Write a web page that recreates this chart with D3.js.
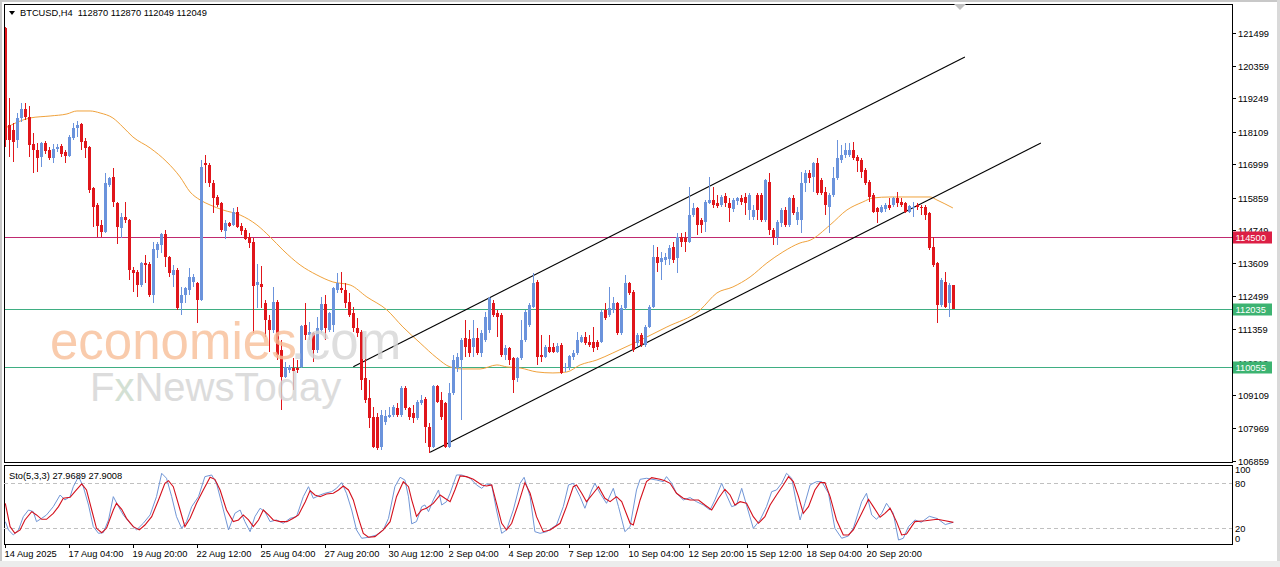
<!DOCTYPE html>
<html><head><meta charset="utf-8">
<script src="https://cdn.jsdelivr.net/npm/d3@7"></script>
<style>
body{margin:0;background:#fff;}
svg{display:block;}
text{font-family:"Liberation Sans",Arial,sans-serif;}
</style>
</head><body>
<svg id="chart" width="1280" height="567"></svg>
<script>
// ---------------- DATA ----------------
const symbolLabel = "BTCUSD,H4";
const lastBar = ["112870","112870","112049","112049"];
const stochLabel = "Sto(5,3,3) 27.9689 27.9008";

const opens = [121653,118339,118168,117826,118578,118885,118612,117690,117484,117245,117724,117484,117211,117519,117621,117416,117279,117894,118236,118373,117792,117587,116186,115605,114922,114683,116289,116562,115673,114819,115195,115093,113384,113316,112871,113623,113589,112530,114067,114238,114614,113828,113213,113384,112256,112530,112701,112974,112940,112359,117040,116972,116357,115878,115673,114717,114990,114922,115366,114888,114751,114512,114341,112871,112906,112256,111676,111334,112291,110650,109728,109967,110035,110035,110070,111505,111163,111231,110650,111334,112222,111334,111505,112701,112769,112701,112291,111915,111402,111266,109694,109010,108361,108361,107336,108190,108361,108429,108669,108429,109352,108669,108498,108327,108839,108976,108019,107336,109420,108942,108839,107336,109181,110035,110309,111060,111026,110753,111060,110548,110992,111334,112256,111915,111846,110480,110719,110377,109694,110377,110992,111505,112120,112974,110480,110411,110753,110753,110582,110821,110035,110070,110411,110548,110924,111095,110924,110924,110924,110924,112017,111846,112017,112256,111231,112086,112940,112632,110890,111163,110821,111436,112120,113828,113657,113726,113760,114170,113794,114512,114477,114341,115263,115503,115093,115024,115673,115776,115673,115605,115913,115673,115468,115742,115844,115878,115434,115195,115947,115947,115093,116391,114751,114512,114990,115434,114922,115844,115093,115093,116357,116699,116562,117040,116459,116049,115537,115947,116528,117143,117314,117314,117484,117245,117143,116801,116391,115947,115503,115366,115468,115605,115605,115844,115708,115673,115366,115503,115605,115537,115537,115332,114170,113623,112188,112974,112256,112870];
const highs = [121687,119261,118407,118749,119090,119090,118988,118065,117724,117758,117792,117587,117690,117690,117690,117484,117997,118407,118475,118407,117894,117621,116220,115673,115093,116699,116562,116869,115708,115332,115708,115127,113487,113384,113657,113897,113657,114341,114341,114648,114751,113862,113555,113452,112803,112803,113452,113247,112974,117143,117314,117040,116459,115947,115708,115093,115024,115503,115537,114990,114819,114648,114477,113589,113521,112359,111846,112803,112359,110992,110240,110138,110377,110309,111505,112256,111607,111266,111778,112461,112530,111949,112803,113282,113316,112940,112598,112120,111744,111334,111095,109625,108703,108498,108600,108600,108703,108771,108839,109420,109420,108703,108771,108942,109113,109044,108156,109455,109455,109215,108874,109523,110480,110548,111060,111676,111334,111676,111402,111334,111949,112461,112359,112017,111915,110821,110753,110411,110411,111676,112017,112256,113282,113042,111163,110821,111163,110890,110890,110890,110206,110480,110650,111266,111163,111266,111163,111436,110992,112017,112256,112803,112461,112291,112188,113213,112974,112701,111231,111231,111505,112188,114238,114170,113999,113965,114238,114341,114648,114648,114683,116220,115673,115537,115161,115776,116562,116220,115947,115947,116015,115844,115844,115878,115947,116015,116015,115605,116015,116015,116494,116699,114819,115093,115503,115537,115878,115947,115537,116733,116801,116801,117074,117211,116528,116220,116015,116904,117826,117655,117724,117724,117758,117314,117211,116869,116459,116015,115537,115605,115673,115844,115878,116049,115844,115708,115605,115708,115673,115605,115605,115366,114512,113657,113111,113316,112940,112870];
const lows = [117587,117245,117074,117553,118441,118510,117245,116699,116733,116904,117348,117143,117040,117416,117245,117040,117245,117826,117929,117484,117211,116015,114853,114512,114512,114648,116220,115537,114272,114477,114990,113042,112632,112461,112803,112940,112461,112256,113794,113965,113487,113145,112803,112017,111846,112256,112530,112803,111573,112325,116357,116220,115332,115537,114683,114443,114853,114888,114819,114580,114409,114136,111231,112086,112086,111095,110582,111231,110309,108600,109694,109865,109284,109865,110035,110992,110992,110240,110548,111231,110992,111266,111266,112598,112598,112086,111778,111266,111095,109284,108839,107985,107302,107233,107233,108088,108327,108361,108361,108361,108600,108259,108156,108259,108771,107473,107131,107302,108839,108259,107302,107302,109113,109899,108259,110411,110411,110411,110480,110411,110924,111231,111778,111095,110411,110309,110138,109181,109557,110309,110924,111436,112086,110138,110240,110377,110548,110548,110548,109830,109899,109967,110309,110480,110890,110821,110753,110582,110650,110890,111676,111778,111915,111163,111163,112017,112530,110582,110753,110753,110753,111402,112086,113316,113042,113555,113555,113623,113282,114170,113999,114307,115195,114580,114648,114683,115639,115503,115503,115537,115537,115024,115366,115605,115605,115263,115093,115093,115093,115024,115024,114580,114238,114238,114853,114853,114853,115263,114922,114648,116049,116357,116049,115947,115947,115263,114648,115878,116459,117040,117211,117245,117143,116733,116528,116289,115708,115332,114990,115332,115366,115434,115537,115537,115537,115332,115332,115195,115434,115263,115093,114067,113487,111573,112120,112086,111778,112049];
const closes = [117826,117826,117758,118578,118885,118612,117655,117484,117211,117724,117450,117211,117519,117587,117348,117279,117929,118236,118339,117758,117553,116118,115537,114888,114683,116357,116528,115708,114853,115195,115093,113384,113282,112871,113623,113555,112530,114102,114272,114614,113828,113282,113384,112086,112530,112769,113145,113145,112359,116904,116972,116357,115844,115605,114751,114990,114888,115366,114853,114717,114443,114307,112837,112974,112803,111676,111334,112291,110480,109728,110070,110070,109933,109967,111471,111163,111266,110650,111402,112222,111402,111915,112769,112940,112701,112256,111846,111402,111231,109625,108942,108327,107336,107302,108429,108395,108429,108703,108429,109352,108669,108361,108327,108874,108942,108019,107336,109420,108874,108361,107336,109181,110309,110411,110992,110753,110548,111060,110548,111231,111778,112427,111846,111778,110480,110719,110309,109625,110377,110992,111949,112188,112940,110411,110411,110753,110582,110582,110787,109865,110070,110445,110548,110992,111095,110890,110821,110719,110753,111949,111744,112086,112256,111231,112086,112940,112598,110650,111163,110821,111436,112120,113828,113623,113794,113828,114136,113726,114512,114341,114341,115263,115503,114922,114922,115708,115776,115605,115571,115878,115673,115503,115776,115844,115708,115673,115947,115434,115434,115093,116459,114751,114512,115024,115434,114922,115844,115332,115366,116357,116699,116528,117040,116015,116015,115605,115947,116528,117211,117314,117484,117484,117211,117109,116733,116357,115878,115366,115366,115537,115605,115503,115844,115673,115605,115366,115571,115537,115537,115503,115263,114136,113555,112188,113042,112120,112871,112049];

// moving average line, read at sampled bars: [bar index, price]
const maPoints = [[0,118236],[6.2,118578],[11.2,118646],[15.4,118715],[17.9,118817],[21.2,118817],[23.7,118749],[26.9,118578],[29.4,118270],[31.9,117929],[36.2,117553],[40.4,117074],[43.7,116562],[46.2,116049],[48.7,115776],[51.2,115605],[54.4,115434],[58.7,115263],[62.9,114922],[66.2,114512],[69.4,114067],[73.7,113555],[77.9,113213],[81.9,112974],[86.2,112871],[90.4,112461],[95.4,112017],[99.4,111436],[103.7,110890],[107.9,110377],[111.2,110070],[114.4,110001],[118.7,110001],[122.9,110138],[125.4,110070],[128.7,110035],[132.9,109899],[136.9,109865],[140.4,109899],[143.7,110138],[147.9,110309],[151.9,110548],[156.2,110821],[160.4,111095],[165.4,111436],[173.7,112017],[177.9,112598],[181.9,112803],[186.2,113145],[190.4,113623],[194.4,113999],[198.7,114307],[201.2,114400],[206.2,114922],[210.4,115434],[214.4,115708],[216.9,115844],[221.2,115878],[231.2,115878],[232.9,115776],[236.9,115503]];

// trend channel: [bar index, price] end points
const channelUpper = [[87,110080],[239.9,120662]];
const channelLower = [[106.2,107155],[258.9,117724]];

// horizontal levels
const levelValues = [114500,112035,110055];
const levelLabels = ["114500","112035","110055"];

// axes
const priceTicks = [121499,120359,119249,118109,116999,115859,114749,113609,112499,111359,110219,109109,107969,106859];
const timeTickIdx = [0,16,32,48,64,80,96,111,126,141,156,171,185.4,200.4,215.4];
const timeTickLabels = ["14 Aug 2025","17 Aug 04:00","19 Aug 20:00","22 Aug 12:00","25 Aug 04:00","27 Aug 20:00","30 Aug 12:00","2 Sep 04:00","4 Sep 20:00","7 Sep 12:00","10 Sep 04:00","12 Sep 20:00","15 Sep 12:00","18 Sep 04:00","20 Sep 20:00"];
const stochLevels = [80,20];
const stochAxisLabels = [100,80,20,0];

// stochastic oscillator: [bar index, value]
const stochMain = [[0,28.9],[0.8,17.8],[2,11.1],[3.3,17.8],[4.5,35.5],[5.8,44.4],[7,42.2],[7.8,28.9],[9.1,33.3],[10.3,37.8],[12,48.9],[13.7,64.4],[14.9,57.8],[16.2,62.2],[17,75.5],[18.3,88.9],[19.5,75.5],[20.8,51.1],[22,22.2],[23.3,13.3],[24.5,14.2],[25.8,31.1],[27,62.2],[28.3,48.9],[29.5,37.8],[31.2,26.7],[32.8,17.8],[34.5,26.7],[36.2,37.8],[37.8,62.2],[39.1,93.3],[40.3,86.7],[41.6,62.2],[42.8,35.5],[44.1,20],[45.3,28.9],[46.6,48.9],[48.3,62.2],[49.9,88.9],[51.6,91.1],[52.8,80],[54.1,53.3],[55.8,17.8],[57.4,40],[58.7,44.4],[59.9,28.9],[61.2,15.5],[62.4,35.5],[63.7,46.7],[64.9,42.2],[66.2,28.9],[67.8,31.1],[69.5,26.7],[71.2,33.3],[72.8,35.5],[74.5,62.2],[75.8,75.5],[77,60],[78.7,64.4],[79.9,66.7],[81.6,68.9],[82.8,73.3],[84.1,80.9],[85.3,66.7],[86.6,44.4],[87.8,17.8],[89.1,6.7],[90.8,8],[92.8,11.1],[94.5,17.8],[95.8,33.3],[97.4,75.5],[98.7,88],[99.9,84.4],[100.8,62],[101.6,26],[102.8,29],[104.1,48.9],[104.9,51.1],[105.8,42.2],[107,57.8],[108.3,71.1],[109.1,51.1],[110.3,55.5],[111.2,66.7],[112.8,91.1],[114.1,91.1],[116.2,86.7],[117.8,77.8],[119.1,73.3],[120.3,79.1],[121.6,77.8],[122.8,44.4],[124.1,13.3],[125.3,17.8],[127,44.4],[128.7,80],[129.7,88],[131.2,62.2],[132.4,15.5],[133.7,13.3],[135.3,15.5],[137.8,24.4],[139.5,48.9],[140.8,77.8],[142,80],[143.7,62.2],[144.9,46.7],[146.6,71.1],[147.4,80],[148.7,66.7],[150.3,53.3],[152,73.3],[153.3,48.9],[154.9,15.5],[156.2,22.2],[157.8,71.1],[158.7,85.3],[160.3,86.7],[162.8,84.4],[164.5,82.2],[165.3,88.9],[166.6,80],[167.8,66.7],[169.5,57.8],[171.2,60.9],[172.8,55.5],[174.5,51.1],[176.2,44.4],[177.4,57.8],[179.1,80],[180.3,64.4],[181.6,48.9],[182.8,51.1],[184.1,73.3],[185.3,51.1],[187,20],[188.7,31.1],[190.3,48.9],[191.6,68.9],[192.8,71.1],[194.1,80],[195.3,93.3],[196.6,86.7],[197.8,53.3],[198.7,31.1],[199.9,53.3],[201.2,77.8],[202.8,82.2],[204.1,82.2],[205.8,66.7],[207.4,20],[209.1,6.7],[210.8,9.8],[212,20],[214.1,55.5],[215.3,66.7],[216.6,37.8],[217.8,32],[219.1,40],[220.3,53.3],[222,40],[223.3,4.4],[224.5,6.7],[225.8,22.2],[227.4,31.1],[229,28],[231,36],[233,33],[235,25],[237,28]];
const stochSignal = [[0,53.3],[1.2,22.2],[2.4,13.3],[3.7,17.8],[4.9,31.1],[6.6,42.2],[7.8,37.8],[9.1,32],[10.3,32],[12,40],[13.3,48.9],[14.5,60],[16.2,61.3],[17.4,68.9],[19.1,79.1],[20.3,71.1],[21.6,44.4],[22.8,20],[24.1,14.2],[25.3,20],[27,44.4],[27.8,53.3],[29.1,45.3],[30.3,33.3],[32,22.2],[33.5,17.8],[34.9,24.4],[36.6,35.5],[38.3,57.8],[39.9,80],[40.8,83.5],[42,75.5],[43.7,44.4],[44.9,22.2],[46.2,33.3],[47.8,53.3],[49.5,71.1],[51.2,88],[52.4,85.3],[53.7,71.1],[55.3,44.4],[57,28.9],[58.3,31.1],[59.5,37.8],[60.8,31.1],[62,22.2],[63.3,31.1],[64.5,44.4],[65.8,37.8],[67,31.1],[68.7,28.9],[70.4,28.9],[72,33.3],[73.3,37.8],[75,55.5],[76.2,70.2],[77.4,64.4],[78.7,62.2],[80.3,65.8],[82,66.7],[83.3,71.1],[84.5,76.4],[85.8,71.1],[87,57.8],[88.3,33.3],[89.5,13.3],[90.8,8],[92.4,8.9],[94.5,17.8],[96.2,28.9],[97.8,62.2],[99.5,82.2],[100.8,75.5],[101.6,58],[102.8,36],[104.1,44.4],[105.3,46.7],[107,53.3],[108.7,64.4],[109.9,60],[111.2,55.5],[112.4,71.1],[113.7,89.8],[115.3,88.9],[117,85.3],[119.1,77.8],[120.3,76.4],[121.6,77.8],[122.8,53.3],[124.1,26.7],[125.3,17.8],[126.6,26.7],[128.3,53.3],[129.9,80.9],[131.2,66.7],[132.8,35.5],[134.5,15.5],[136.2,17.8],[138.7,26.7],[140.3,48.9],[142,75.5],[142.8,77.8],[144.1,66.7],[145.3,55.5],[147,66.7],[148.3,75.5],[149.9,60],[151.2,55.5],[152.8,62.2],[154.1,55.5],[156.2,26.7],[157,24.4],[158.7,57.8],[160.3,82.2],[161.6,87.5],[163.7,85.3],[164.9,83.5],[166.2,80],[167.8,66.7],[169.5,60],[171.2,57.8],[173.3,57.8],[174.9,51.1],[176.6,44.4],[178.3,60],[179.9,72],[181.2,64.4],[182.4,51.1],[183.7,55.5],[185.3,53.3],[187,35.5],[188.3,26.7],[189.9,35.5],[191.2,51.1],[192.8,64.4],[194.5,77.8],[195.8,88.9],[197,82.2],[198.3,62.2],[199.5,40],[200.8,48.9],[202.4,71.1],[203.7,80.9],[204.9,80.9],[206.2,62.2],[207.8,31.1],[209.5,11.1],[210.8,11.1],[212,17.8],[214.1,40],[215.8,58.7],[217,48.9],[218.7,34.7],[219.9,40],[221.2,46.7],[222.8,28.9],[224.1,11.1],[225.3,12.4],[227.4,28.9],[230,30],[233,32],[235,30],[237,27.9]];

// ---------------- STYLE / LAYOUT ----------------
const W = 1280, H = 567;
const L = 4, R = 1232, MT = 4, MB = 462, ST = 465, SB = 544;
const BULL = "#6b93dc", BEAR = "#e0161b", MA_COL = "#f0a23c";
const LEVEL_LINE = ["#c02a70", "#3fae82", "#3fae82"];
const LEVEL_BOX = ["#dc1f45", "#3cb371", "#3cb371"];
const FS = 9.3;

const svg = d3.select("#chart");
const x = d3.scaleLinear().domain([0, 237]).range([5.3, 953.3]);
const y = d3.scaleLinear().domain([106859, 121499]).range([460.9, 32.5]);
const ys = d3.scaleLinear().domain([0, 100]).range([543.3, 468.3]);

svg.append("rect").attr("width", W).attr("height", H).attr("fill", "#fff");

const defs = svg.append("defs");
defs.append("clipPath").attr("id", "clipMain").append("rect")
  .attr("x", L).attr("y", MT).attr("width", R - L).attr("height", MB - MT);
defs.append("clipPath").attr("id", "clipSto").append("rect")
  .attr("x", L).attr("y", ST).attr("width", R - L).attr("height", SB - ST);

// window border
svg.append("rect").attr("x", 0).attr("y", 0).attr("width", W).attr("height", 2).attr("fill", "#c8c8c8");
svg.append("rect").attr("x", 0).attr("y", 0).attr("width", 2).attr("height", H).attr("fill", "#c8c8c8");
svg.append("rect").attr("x", W - 3).attr("y", 0).attr("width", 3).attr("height", H).attr("fill", "#d9d9d9");
svg.append("rect").attr("x", 0).attr("y", 561).attr("width", W).attr("height", 6).attr("fill", "#ececec");

const main = svg.append("g").attr("clip-path", "url(#clipMain)");

// levels
levelValues.forEach((v, k) => {
  const yy = Math.round(y(v)) + 0.5;
  main.append("line").attr("x1", L).attr("x2", R).attr("y1", yy).attr("y2", yy)
    .attr("stroke", LEVEL_LINE[k]).attr("stroke-width", 1);
});

// MA
main.append("path").datum(maPoints)
  .attr("d", d3.line().x(d => x(d[0])).y(d => y(d[1])).curve(d3.curveMonotoneX))
  .attr("fill", "none").attr("stroke", MA_COL).attr("stroke-width", 1);

// channel
[channelUpper, channelLower].forEach(c => {
  main.append("line").attr("x1", x(c[0][0])).attr("y1", y(c[0][1]))
    .attr("x2", x(c[1][0])).attr("y2", y(c[1][1]))
    .attr("stroke", "#000").attr("stroke-width", 1.1);
});

// candles
const candles = main.append("g").attr("shape-rendering", "crispEdges");
opens.forEach((o, i) => {
  const c = closes[i], h = highs[i], l = lows[i];
  const col = c >= o ? BULL : BEAR;
  const cx = Math.round(x(i));
  candles.append("rect").attr("x", cx).attr("width", 1)
    .attr("y", Math.round(y(h))).attr("height", Math.max(1, Math.round(y(l)) - Math.round(y(h))))
    .attr("fill", col);
  const top = Math.round(y(Math.max(o, c))), bot = Math.round(y(Math.min(o, c)));
  candles.append("rect").attr("x", cx - 1).attr("width", 3)
    .attr("y", top).attr("height", Math.max(1, bot - top)).attr("fill", col);
});

// watermark
const wm = svg.append("g").attr("opacity", 0.8);
const t1 = wm.append("text").attr("x", 50).attr("y", 359).attr("font-size", 51)
  .attr("font-family", "'Liberation Sans',Arial,sans-serif");
t1.append("tspan").attr("fill", "#f8bf98").text("economies");
t1.append("tspan").attr("fill", "#d6d6d6").attr("dx", -6).text(".com");
const t2 = wm.append("text").attr("x", 90).attr("y", 401).attr("font-size", 40)
  .attr("font-family", "'Liberation Sans',Arial,sans-serif");
t2.append("tspan").attr("fill", "#d4d4d4").text("F");
t2.append("tspan").attr("fill", "#c9d9c9").text("x");
t2.append("tspan").attr("fill", "#d4d4d4").text("NewsToday");

// frames
svg.append("rect").attr("x", L + 0.5).attr("y", MT + 0.5).attr("width", R - L).attr("height", MB - MT)
  .attr("fill", "none").attr("stroke", "#000");
svg.append("rect").attr("x", L + 0.5).attr("y", ST + 0.5).attr("width", R - L).attr("height", SB - ST)
  .attr("fill", "none").attr("stroke", "#000");

// shift marker
svg.append("path").attr("d", "M954,4 L966,4 L960,10 Z").attr("fill", "#c0c0c0");

// header
svg.append("path").attr("d", "M9,11 L15,11 L12,15 Z").attr("fill", "#000");
svg.append("text").attr("x", 20).attr("y", 16).attr("font-size", FS).attr("fill", "#000")
  .attr("xml:space", "preserve").text(symbolLabel + "  " + lastBar.join(" "));

// price axis
const pax = svg.append("g");
priceTicks.forEach(v => {
  const yy = Math.round(y(v)) + 0.5;
  pax.append("line").attr("x1", R).attr("x2", R + 4).attr("y1", yy).attr("y2", yy).attr("stroke", "#000");
  pax.append("text").attr("x", 1238).attr("y", yy + 3.3).attr("font-size", FS).attr("fill", "#000").text(d3.format("d")(v));
});

// level boxes
levelValues.forEach((v, k) => {
  const yy = Math.round(y(v)) + 0.5;
  svg.append("rect").attr("x", R + 1).attr("y", yy - 6).attr("width", 39).attr("height", 12).attr("fill", LEVEL_BOX[k]);
  svg.append("text").attr("x", 1235.5).attr("y", yy + 3.3).attr("font-size", FS).attr("fill", "#fff").text(levelLabels[k]);
});

// stochastic panel
const sto = svg.append("g").attr("clip-path", "url(#clipSto)");
stochLevels.forEach(v => {
  const yy = Math.round(ys(v)) + 0.5;
  sto.append("line").attr("x1", L).attr("x2", R).attr("y1", yy).attr("y2", yy)
    .attr("stroke", "#c0c0c0").attr("stroke-dasharray", "4,3");
});
const sline = d3.line().x(d => x(d[0])).y(d => ys(d[1]));
sto.append("path").datum(stochMain).attr("d", sline).attr("fill", "none").attr("stroke", "#7196d6").attr("stroke-width", 1);
sto.append("path").datum(stochSignal).attr("d", sline).attr("fill", "none").attr("stroke", "#d4101c").attr("stroke-width", 1.1);

svg.append("text").attr("x", 9).attr("y", 479).attr("font-size", FS).attr("fill", "#000").text(stochLabel);

const saxOffsets = {100: 4.5, 80: 3.5, 20: 3.5, 0: -1.8};
stochAxisLabels.forEach(v => {
  svg.append("text").attr("x", 1235).attr("y", ys(v) + saxOffsets[v]).attr("font-size", FS).attr("fill", "#000").text(v);
});

// time axis
timeTickIdx.forEach((ti, k) => {
  const xx = Math.round(x(ti)) + 0.5;
  svg.append("line").attr("x1", xx).attr("x2", xx).attr("y1", SB).attr("y2", SB + 4).attr("stroke", "#000");
  svg.append("text").attr("x", xx - 1).attr("y", 557).attr("font-size", FS).attr("fill", "#000").text(timeTickLabels[k]);
});
</script>
</body></html>
